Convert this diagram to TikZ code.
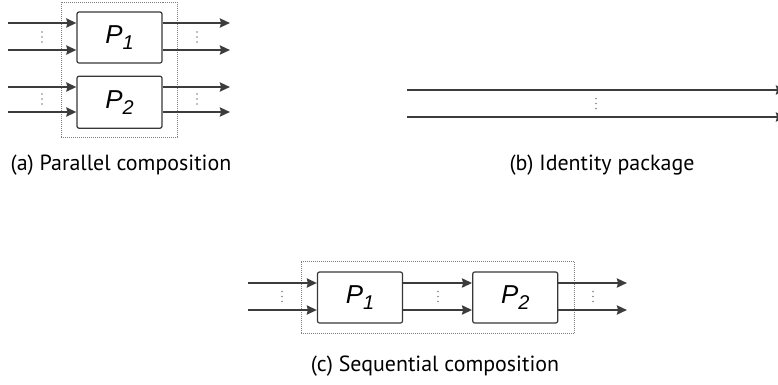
\documentclass[tikz,border=0pt]{standalone}
\usepackage{fontspec}
\setmainfont{PT Sans}
\newfontfamily\procfont{Liberation Sans}
\usepackage{tikz}
\usetikzlibrary{positioning,calc,arrows.meta}
\usepackage{xcolor}
\definecolor{wiregray}{RGB}{60,60,60}
\definecolor{boxgray}{RGB}{55,55,55}
\newcommand{\Pn}[1]{{\procfont\itshape\fontsize{26}{28}\selectfont P\raisebox{-6bp}{\fontsize{20}{22}\selectfont #1}}}

\begin{document}
\begin{tikzpicture}[
  x=1bp, y=-1bp,
  proc/.style={rectangle, draw=boxgray, line width=1.2bp, rounded corners=2bp, minimum width=85bp, minimum height=51bp, inner sep=0pt},
  frame/.style={draw=gray, densely dotted, line width=1bp, inner sep=0pt},
  wire/.style={draw=wiregray, line width=2.3bp, -{Stealth[length=10bp,width=9bp,inset=1bp]}},
  dotcol/.pic={\fill[gray] (0,-5) circle (0.9bp) (0,0) circle (0.9bp) (0,5) circle (0.9bp);},
  captext/.style={font=\fontsize{22}{26}\selectfont}
]
\useasboundingbox (0,0) rectangle (778,384);

% (a) parallel
\node[proc] (p1) at (119.5,37.5) {\Pn{1}};
\node[proc, minimum height=52bp, below=12bp of p1] (p2) {\Pn{2}};
\node[frame, minimum width=116bp, minimum height=135bp] (parbox) at (119,69.5) {};
\coordinate (a1) at (8,23);
\coordinate (a2) at (8,50);
\coordinate (a3) at (8,87);
\coordinate (a4) at (8,112);
\coordinate (o1) at (230,23);
\coordinate (o2) at (230,50);
\coordinate (o3) at (230,87);
\coordinate (o4) at (230,112);
\draw[wire] (a1) -- (a1 -| p1.west);
\draw[wire] (a2) -- (a2 -| p1.west);
\draw[wire] (a3) -- (a3 -| p2.west);
\draw[wire] (a4) -- (a4 -| p2.west);
\draw[wire] (o1 -| p1.east) -- (o1);
\draw[wire] (o2 -| p1.east) -- (o2);
\draw[wire] (o3 -| p2.east) -- (o3);
\draw[wire] (o4 -| p2.east) -- (o4);
\pic at (42,37) {dotcol};
\pic at (197,37) {dotcol};
\pic at (42,99) {dotcol};
\pic at (197,99) {dotcol};
\node[captext] (capa) at (121,165) {(a) Parallel composition};

% (b) identity
\coordinate (b1) at (407,90);
\coordinate (b2) at (407,117);
\coordinate (e1) at (786,90);
\coordinate (e2) at (786,117);
\draw[wire] (b1) -- (e1);
\draw[wire] (b2) -- (e2);
\pic at (596,103.5) {dotcol};
\node[captext] (capb) at (602,165) {(b) Identity package};

% (c) sequential
\node[proc] (q1) at (360,297.5) {\Pn{1}};
\node[proc, right=69bp of q1] (q2) {\Pn{2}};
\node[frame, minimum width=273bp, minimum height=72bp] (seqbox) at (437.5,297) {};
\coordinate (c1) at (248,283);
\coordinate (c2) at (248,310);
\coordinate (d1) at (627,283);
\coordinate (d2) at (627,310);
\draw[wire] (c1) -- (c1 -| q1.west);
\draw[wire] (c2) -- (c2 -| q1.west);
\draw[wire] (c1 -| q1.east) -- (c1 -| q2.west);
\draw[wire] (c2 -| q1.east) -- (c2 -| q2.west);
\draw[wire] (d1 -| q2.east) -- (d1);
\draw[wire] (d2 -| q2.east) -- (d2);
\pic at (282,296.5) {dotcol};
\pic at (438,296.5) {dotcol};
\pic at (593,296.5) {dotcol};
\node[captext] (capc) at (435,366) {(c) Sequential composition};
\end{tikzpicture}
\end{document}
